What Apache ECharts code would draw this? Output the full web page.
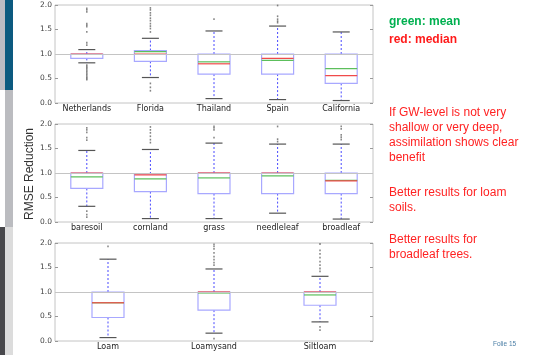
<!DOCTYPE html>
<html>
<head>
<meta charset="utf-8">
<script src="https://cdn.jsdelivr.net/npm/echarts@6/dist/echarts.min.js"></script>
<style>html,body{margin:0;padding:0;background:#fff;}#c{width:556px;height:355px;}</style>
</head>
<body>
<div id="c"></div>
<script>
// ---- Panel 1: regions ----
const cats1 = ['Netherlands', 'Florida', 'Thailand', 'Spain', 'California'];
const whiskLow1 = [0.82, 0.52, 0.09, 0.07, 0.05];
const q1_1 = [0.91, 0.85, 0.59, 0.59, 0.40];
const median1 = [1.00, 1.00, 0.80, 0.91, 0.56];
const q3_1 = [1.00, 1.07, 1.00, 1.00, 1.00];
const whiskHigh1 = [1.09, 1.32, 1.47, 1.57, 1.45];
const mean1 = [0.99, 1.05, 0.84, 0.87, 0.70];
const flyers1 = [
  [1.18, 1.23, 1.45, 1.56, 1.59, 1.62, 1.86, 1.90, 1.93, 0.77, 0.74, 0.71, 0.68, 0.65, 0.62, 0.59, 0.56, 0.53, 0.50, 0.48],
  [1.45, 1.52, 1.57, 1.62, 1.68, 1.73, 1.79, 1.84, 1.90, 1.94, 0.40, 0.32, 0.25],
  [1.71],
  [1.64, 1.67, 1.71, 1.77, 1.99],
  []
];
// ---- Panel 2: land cover ----
const cats2 = ['baresoil', 'cornland', 'grass', 'needleleaf', 'broadleaf'];
const whiskLow2 = [0.32, 0.07, 0.07, 0.18, 0.06];
const q1_2 = [0.685, 0.62, 0.58, 0.58, 0.58];
const median2 = [1.00, 0.96, 1.00, 1.00, 0.84];
const q3_2 = [1.00, 0.98, 1.00, 1.00, 1.00];
const whiskHigh2 = [1.46, 1.48, 1.61, 1.59, 1.59];
const mean2 = [0.92, 0.88, 0.90, 0.94, 0.85];
const flyers2 = [
  [1.67, 1.72, 1.83, 1.88, 1.92, 0.22, 0.15, 0.10],
  [1.62, 1.68, 1.75, 1.82, 1.88, 1.94],
  [1.72, 1.88, 1.92, 1.95],
  [1.64, 1.69, 1.95],
  [1.68, 1.73, 1.78, 1.90, 1.95]
];
// ---- Panel 3: soil ----
const cats3 = ['Loam', 'Loamysand', 'Siltloam'];
const whiskLow3 = [0.07, 0.16, 0.39];
const q1_3 = [0.48, 0.63, 0.73];
const median3 = [0.78, 1.00, 1.00];
const q3_3 = [1.00, 1.00, 1.00];
const whiskHigh3 = [1.67, 1.47, 1.32];
const mean3 = [0.78, 0.98, 0.94];
const flyers3 = [
  [1.93],
  [1.55, 1.60, 1.66, 1.72, 1.80, 1.88, 1.93, 1.97, 0.05],
  [1.42, 1.48, 1.55, 1.62, 1.70, 1.78, 1.85, 1.98, 0.29, 0.22]
];
const yTicks = [0.0, 0.5, 1.0, 1.5, 2.0];

const panels = [
  {cats: cats1, lo: whiskLow1, q1: q1_1, med: median1, q3: q3_1, hi: whiskHigh1, mean: mean1, fly: flyers1, top: 5},
  {cats: cats2, lo: whiskLow2, q1: q1_2, med: median2, q3: q3_2, hi: whiskHigh2, mean: mean2, fly: flyers2, top: 124},
  {cats: cats3, lo: whiskLow3, q1: q1_3, med: median3, q3: q3_3, hi: whiskHigh3, mean: mean3, fly: flyers3, top: 243}
];

function renderBox(params, api) {
  const i = api.value(0);
  const pt = v => api.coord([i, v]);
  const x = pt(api.value(3))[0];
  const yl = pt(api.value(1))[1], yq1 = pt(api.value(2))[1], ym = pt(api.value(3))[1];
  const yq3 = pt(api.value(4))[1], yh = pt(api.value(5))[1], ymean = pt(api.value(6))[1];
  const hw = 16, cw = 8.5;
  const dash = {stroke: '#4a4aff', lineWidth: 1, lineDash: [2, 2]};
  return {
    type: 'group',
    children: [
      {type: 'line', shape: {x1: x, y1: yq1, x2: x, y2: yl}, style: dash},
      {type: 'line', shape: {x1: x, y1: yq3, x2: x, y2: yh}, style: dash},
      {type: 'line', shape: {x1: x - cw, y1: yl, x2: x + cw, y2: yl}, style: {stroke: '#555', lineWidth: 1.2}},
      {type: 'line', shape: {x1: x - cw, y1: yh, x2: x + cw, y2: yh}, style: {stroke: '#555', lineWidth: 1.2}},
      {type: 'rect', shape: {x: x - hw, y: yq3, width: 2 * hw, height: yq1 - yq3}, style: {fill: null, stroke: '#a8a8ff', lineWidth: 1.2}},
      {type: 'line', shape: {x1: x - hw, y1: ymean, x2: x + hw, y2: ymean}, style: {stroke: '#5cbf5c', lineWidth: 1.2}},
      {type: 'line', shape: {x1: x - hw, y1: ym, x2: x + hw, y2: ym}, style: {stroke: '#f04a4a', lineWidth: 1.2}}
    ]
  };
}

const grids = [], xAxes = [], yAxes = [], series = [];
const font = 'DejaVu Sans';
panels.forEach((p, k) => {
  grids.push({left: 55, top: p.top, width: 318, height: 98, show: true, borderColor: '#c4c4c4', borderWidth: 1, backgroundColor: '#fff'});
  xAxes.push({
    type: 'category', gridIndex: k, data: p.cats, boundaryGap: true,
    axisLine: {show: false}, axisTick: {show: false}, splitLine: {show: false},
    axisLabel: {fontFamily: font, fontSize: 8, color: '#222', margin: 2, interval: 0}
  });
  const yBase = {
    type: 'value', gridIndex: k, min: 0, max: 2, interval: 0.5,
    axisLine: {show: false}, splitLine: {show: false},
    axisTick: {show: true, inside: true, length: 3, lineStyle: {color: '#999'}}
  };
  yAxes.push(Object.assign({}, yBase, {
    position: 'left',
    axisLabel: {fontFamily: font, fontSize: 7.5, color: '#444', margin: 3, formatter: v => v.toFixed(1)}
  }));
  yAxes.push(Object.assign({}, yBase, {position: 'right', axisLabel: {show: false}}));
  const boxData = p.cats.map((c, i) => [i, p.lo[i], p.q1[i], p.med[i], p.q3[i], p.hi[i], p.mean[i]]);
  series.push({
    type: 'custom', xAxisIndex: k, yAxisIndex: 2 * k, renderItem: renderBox, data: boxData,
    encode: {x: 0, y: [1, 2, 3, 4, 5]}, silent: true, z: 3,
    markLine: {silent: true, symbol: 'none', label: {show: false}, lineStyle: {color: '#c4c4c4', width: 1, type: 'solid'}, data: [{yAxis: 1}]}
  });
  const fl = [];
  p.fly.forEach((arr, i) => arr.forEach(v => fl.push([i, v])));
  series.push({
    type: 'scatter', xAxisIndex: k, yAxisIndex: 2 * k, data: fl, silent: true, z: 4,
    symbol: 'rect', symbolSize: [1.5, 1.8], itemStyle: {color: '#666'}
  });
});

const redText = {fill: '#ff2222', fontFamily: 'Liberation Sans', fontSize: 12, lineHeight: 15};
const option = {
  animation: false,
  backgroundColor: '#fff',
  grid: grids, xAxis: xAxes, yAxis: yAxes, series: series,
  graphic: [
    {type: 'rect', shape: {x: 0, y: 0, width: 5, height: 90}, style: {fill: '#bcbcc4'}},
    {type: 'rect', shape: {x: 5, y: 0, width: 8, height: 90}, style: {fill: '#0c5a80'}},
    {type: 'rect', shape: {x: 5, y: 90, width: 8, height: 137}, style: {fill: '#bbbcc0'}},
    {type: 'rect', shape: {x: 0, y: 227, width: 5, height: 128}, style: {fill: '#48484c'}},
    {type: 'rect', shape: {x: 5, y: 227, width: 8, height: 128}, style: {fill: '#dcdcdc'}},
    {type: 'text', x: 30, y: 174, rotation: Math.PI / 2,
      style: {text: 'RMSE Reduction', fill: '#333', fontFamily: 'Liberation Sans', fontSize: 12, align: 'center', verticalAlign: 'middle'}},
    {type: 'text', x: 389, y: 22, style: {text: 'green: mean', fill: '#00b050', fontFamily: 'Liberation Sans', fontWeight: 'bold', fontSize: 12, verticalAlign: 'middle'}},
    {type: 'text', x: 389, y: 40, style: {text: 'red: median', fill: '#ff1a1a', fontFamily: 'Liberation Sans', fontWeight: 'bold', fontSize: 12, verticalAlign: 'middle'}},
    {type: 'text', x: 389, y: 105.5, style: Object.assign({text: 'If GW-level is not very\nshallow or very deep,\nassimilation shows clear\nbenefit', verticalAlign: 'top'}, redText)},
    {type: 'text', x: 389, y: 185.5, style: Object.assign({text: 'Better results for loam\nsoils.', verticalAlign: 'top'}, redText)},
    {type: 'text', x: 389, y: 232.5, style: Object.assign({text: 'Better results for\nbroadleaf trees.', verticalAlign: 'top'}, redText)},
    {type: 'text', x: 493, y: 344, style: {text: 'Folie 15', fill: '#4b7fa6', fontFamily: 'Liberation Sans', fontSize: 6.5, verticalAlign: 'middle'}}
  ]
};
const chart = echarts.init(document.getElementById('c'), null, {renderer: 'canvas'});
chart.setOption(option);
</script>
</body>
</html>
